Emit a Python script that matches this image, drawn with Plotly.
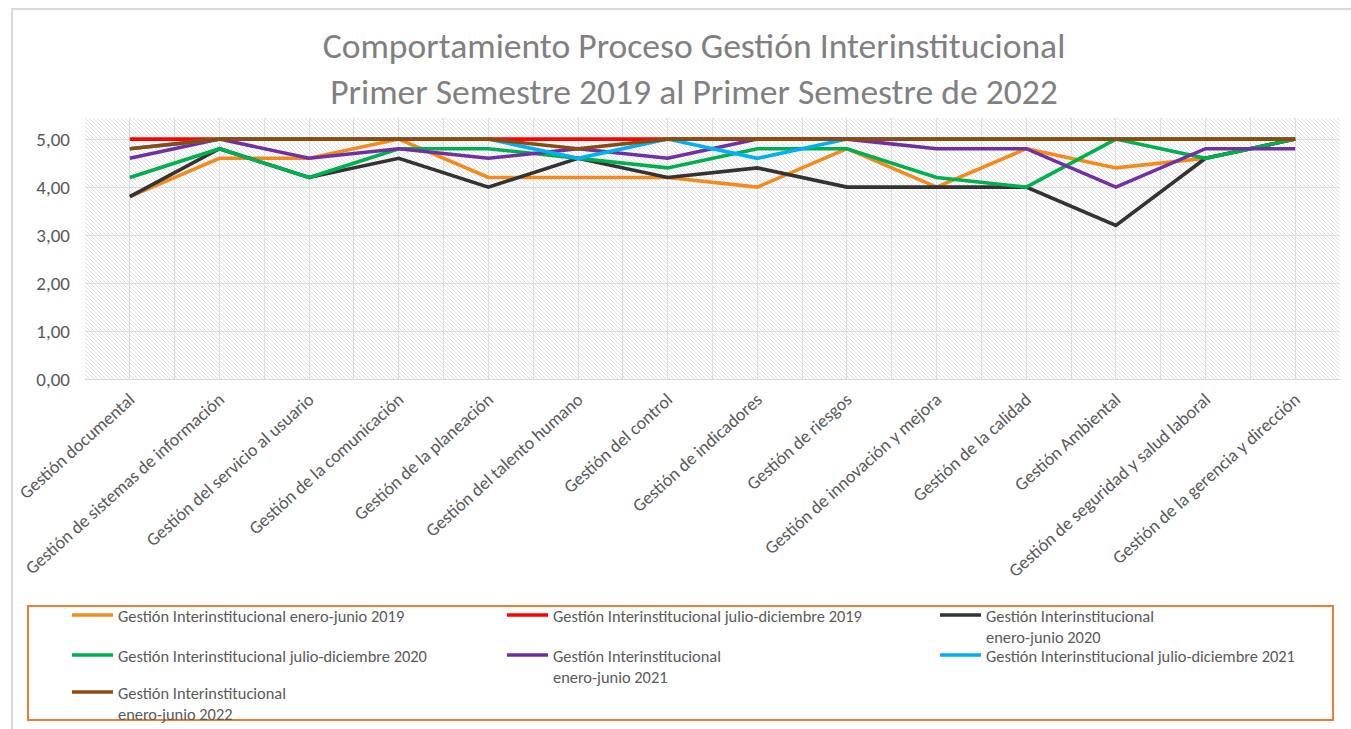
import base64

import plotly.graph_objects as go

categories = [
    "Gestión documental",
    "Gestión de sistemas de información",
    "Gestión del servicio al usuario",
    "Gestión de la comunicación",
    "Gestión de la planeación",
    "Gestión del talento humano",
    "Gestión del control",
    "Gestión de indicadores",
    "Gestión de riesgos",
    "Gestión de innovación y mejora",
    "Gestión de la calidad",
    "Gestión Ambiental",
    "Gestión de seguridad y salud laboral",
    "Gestión de la gerencia y dirección",
]

ene_jun_2019 = [3.8, 4.6, 4.6, 5.0, 4.2, 4.2, 4.2, 4.0, 4.8, 4.0, 4.8, 4.4, 4.6, 5.0]
jul_dic_2019 = [5.0, 5.0, 5.0, 5.0, 5.0, 5.0, 5.0, 5.0, 5.0, 5.0, 5.0, 5.0, 5.0, 5.0]
ene_jun_2020 = [3.8, 4.8, 4.2, 4.6, 4.0, 4.6, 4.2, 4.4, 4.0, 4.0, 4.0, 3.2, 4.6, 5.0]
jul_dic_2020 = [4.2, 4.8, 4.2, 4.8, 4.8, 4.6, 4.4, 4.8, 4.8, 4.2, 4.0, 5.0, 4.6, 5.0]
ene_jun_2021 = [4.6, 5.0, 4.6, 4.8, 4.6, 4.8, 4.6, 5.0, 5.0, 4.8, 4.8, 4.0, 4.8, 4.8]
jul_dic_2021 = [4.8, 5.0, 5.0, 5.0, 5.0, 4.6, 5.0, 4.6, 5.0, 5.0, 5.0, 5.0, 5.0, 5.0]
ene_jun_2022 = [4.8, 5.0, 5.0, 5.0, 5.0, 4.8, 5.0, 5.0, 5.0, 5.0, 5.0, 5.0, 5.0, 5.0]

series = [
    ("Gestión Interinstitucional enero-junio 2019", ene_jun_2019, "#F28A1E"),
    ("Gestión Interinstitucional julio-diciembre 2019", jul_dic_2019, "#FF0000"),
    ("Gestión Interinstitucional<br>enero-junio 2020", ene_jun_2020, "#333333"),
    ("Gestión Interinstitucional julio-diciembre 2020", jul_dic_2020, "#00B050"),
    ("Gestión Interinstitucional<br>enero-junio 2021", ene_jun_2021, "#7030A0"),
    ("Gestión Interinstitucional julio-diciembre 2021", jul_dic_2021, "#00B0F0"),
    ("Gestión Interinstitucional<br>enero-junio 2022", ene_jun_2022, "#8B4A0E"),
]

FONT = "Calibri, Carlito, Lato, sans-serif"
W, H = 1351, 729
ML, MR, MT, MB = 85, 11, 118, 350
PW, PH = W - ML - MR, H - MT - MB

# hatched plot background (Excel "wide downward diagonal" fill)
svg = (
    f'<svg xmlns="http://www.w3.org/2000/svg" width="{PW}" height="{PH}">'
    '<defs><pattern id="h" width="4" height="4" patternUnits="userSpaceOnUse">'
    '<path d="M-1,-1 L5,5 M-1,3 L1,5 M3,-1 L5,1" stroke="#e0e0e0" stroke-width="1"/>'
    '</pattern></defs>'
    '<rect width="100%" height="100%" fill="white"/>'
    '<rect width="100%" height="100%" fill="url(#h)"/></svg>'
)
hatch_src = "data:image/svg+xml;base64," + base64.b64encode(svg.encode()).decode()


def px_x(px):
    return (px - ML) / PW


def px_y(py):
    return (H - MB - py) / PH


x_idx = list(range(len(categories)))

fig = go.Figure()
for name, vals, color in series:
    fig.add_trace(go.Scatter(
        x=x_idx,
        y=vals,
        mode="lines",
        name=name.replace("<br>", " "),
        line=dict(color=color, width=3.6),
        showlegend=False,
    ))

# Excel-style legend box: 3 columns, line sample + label
shapes = [
    # chart area border
    dict(type="rect", xref="paper", yref="paper",
         x0=px_x(12), x1=px_x(1400), y0=px_y(800), y1=px_y(9),
         line=dict(color="#d9d9d9", width=2), fillcolor="rgba(0,0,0,0)"),
    # legend box
    dict(type="rect", xref="paper", yref="paper",
         x0=px_x(28), x1=px_x(1333), y0=px_y(720), y1=px_y(606),
         line=dict(color="#ED7D31", width=2), fillcolor="rgba(0,0,0,0)"),
]
annotations = []
col_x = [72, 507, 940]
row_y = [615, 655, 692]
for i, (name, _, color) in enumerate(series):
    cx, ry = col_x[i % 3], row_y[i // 3]
    shapes.append(dict(
        type="line", xref="paper", yref="paper",
        x0=px_x(cx), x1=px_x(cx + 41), y0=px_y(ry), y1=px_y(ry),
        line=dict(color=color, width=3.5),
    ))
    annotations.append(dict(
        text=name, xref="paper", yref="paper",
        x=px_x(cx + 44), y=px_y(ry - 11),
        xanchor="left", yanchor="top", align="left",
        showarrow=False,
        font=dict(family=FONT, size=16.4, color="#595959"),
    ))

fig.update_layout(
    width=W,
    height=H,
    margin=dict(l=ML, r=MR, t=MT, b=MB, autoexpand=False),
    paper_bgcolor="white",
    plot_bgcolor="white",
    separators=",.",
    font=dict(family=FONT, color="#595959"),
    showlegend=False,
    title=dict(
        text="Comportamiento Proceso Gestión Interinstitucional<br>"
             "Primer Semestre 2019 al Primer Semestre de 2022",
        x=694 / W, xanchor="center", xref="container",
        y=1 - 58 / H, yanchor="top", yref="container",
        font=dict(family=FONT, size=35.6, color="#808080"),
    ),
    xaxis=dict(
        range=[-0.5, len(categories) - 0.5],
        tickmode="array",
        tickvals=x_idx,
        ticktext=categories,
        tickangle=-42,
        tickfont=dict(size=18, color="#595959"),
        ticklabelstandoff=2,
        showgrid=True,
        gridcolor="#dedede",
        gridwidth=1,
        minor=dict(
            tickmode="array",
            tickvals=[i - 0.5 for i in range(len(categories) + 1)],
            showgrid=True,
            gridcolor="#dedede",
            gridwidth=1,
        ),
        showline=True,
        linecolor="#d9d9d9",
        linewidth=1,
        zeroline=False,
        ticks="",
    ),
    yaxis=dict(
        range=[0, 5.44],
        dtick=1,
        tickformat=".2f",
        tickfont=dict(size=19, color="#595959"),
        showgrid=True,
        gridcolor="#dedede",
        gridwidth=1,
        zeroline=False,
        showline=False,
        ticks="",
        ticklabelstandoff=14,
    ),
    images=[dict(
        source=hatch_src,
        xref="paper", yref="paper",
        x=0, y=1, sizex=1, sizey=1,
        sizing="stretch", xanchor="left", yanchor="top",
        layer="below",
    )],
    shapes=shapes,
    annotations=annotations,
)

fig.write_html(
    "out.html",
    config={"displayModeBar": False},
    post_script="document.body.style.margin='0';",
)
